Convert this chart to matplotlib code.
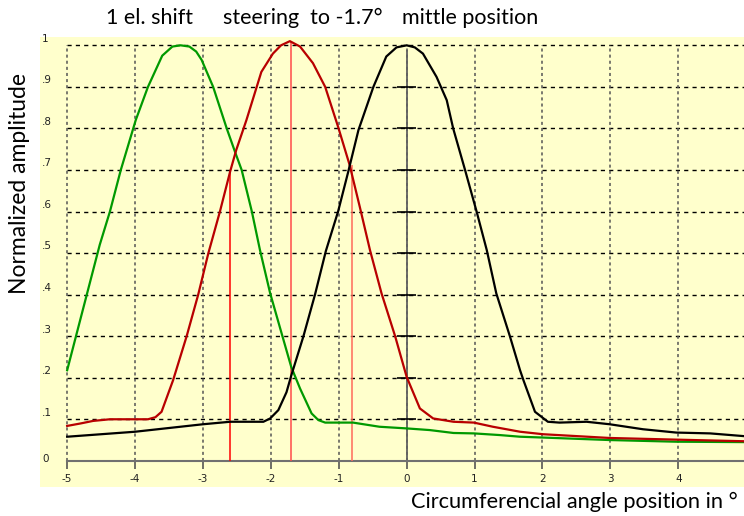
import numpy as np
import matplotlib.pyplot as plt

# DATA
green_x = [-5, -4.8, -4.52, -4.37, -4.21, -3.99, -3.81, -3.6, -3.45, -3.33, -3.2, -3.1, -3.02, -2.85, -2.65,
           -2.52, -2.43, -2.28, -2.16, -2.01, -1.87, -1.70, -1.57, -1.40, -1.30, -1.20, -0.79, -0.40, 0, 0.34,
           0.69, 0.99, 1.37, 1.67, 2.01, 2.99, 3.97, 5.0]
green_y = [0.218, 0.344, 0.52, 0.60, 0.70, 0.82, 0.90, 0.975, 0.997, 1.0, 0.997, 0.985, 0.965, 0.90, 0.80,
           0.74, 0.70, 0.60, 0.507, 0.403, 0.323, 0.226, 0.174, 0.114, 0.098, 0.092, 0.092, 0.082, 0.078, 0.074,
           0.067, 0.066, 0.062, 0.058, 0.056, 0.05, 0.046, 0.045]

red_x = [-5, -4.8, -4.62, -4.37, -3.81, -3.7, -3.61, -3.44, -3.24, -3.07, -2.92, -2.75, -2.60, -2.51, -2.36,
         -2.14, -1.97, -1.85, -1.72, -1.57, -1.38, -1.20, -1.01, -0.84, -0.69, -0.54, -0.37, -0.17, 0, 0.195,
         0.39, 0.69, 0.99, 1.27, 1.67, 2.01, 2.99, 3.97, 5.0]
red_y = [0.084, 0.09, 0.096, 0.10, 0.10, 0.105, 0.118, 0.194, 0.30, 0.40, 0.50, 0.60, 0.696, 0.748, 0.82,
         0.936, 0.98, 1.0, 1.01, 0.997, 0.957, 0.90, 0.804, 0.712, 0.611, 0.507, 0.403, 0.30, 0.202, 0.126,
         0.102, 0.094, 0.092, 0.082, 0.07, 0.064, 0.055, 0.051, 0.047]

black_x = [-5, -4, -3, -2.6, -2.11, -2.01, -1.89, -1.77, -1.70, -1.52, -1.35, -1.19, -1.01, -0.86, -0.71,
           -0.49, -0.30, -0.15, 0, 0.12, 0.24, 0.44, 0.59, 0.685, 0.86, 1.03, 1.18, 1.32, 1.52, 1.67, 1.72,
           1.89, 2.08, 2.25, 2.65, 2.99, 3.48, 3.97, 4.47, 5.0]
black_y = [0.058, 0.07, 0.088, 0.094, 0.094, 0.102, 0.122, 0.165, 0.205, 0.30, 0.40, 0.505, 0.60, 0.696, 0.796,
           0.90, 0.973, 0.995, 1.0, 0.995, 0.98, 0.924, 0.868, 0.80, 0.70, 0.60, 0.507, 0.403, 0.30, 0.218, 0.194,
           0.118, 0.094, 0.092, 0.094, 0.088, 0.076, 0.068, 0.066, 0.059]

# red marker lines (angle, height)
mark_x = [-2.6, -1.7, -0.8]
mark_top = [0.697, 1.01, 0.712]
mark_col = ["#ff0000", "#ff4a4a", "#ff6a5a"]

xticks = [-5, -4, -3, -2, -1, 0, 1, 2, 3, 4, 5]
yticks = [0.1, 0.2, 0.3, 0.4, 0.5, 0.6, 0.7, 0.8, 0.9, 1.0]
ylabels = ["1", ".9", ".8", ".7", ".6", ".5", ".4", ".3", ".2", ".1", "0"]
ylabel_vals = [1.0, 0.9, 0.8, 0.7, 0.6, 0.5, 0.4, 0.3, 0.2, 0.1, 0.0]

# PLOT
W, H = 744, 516
fig = plt.figure(figsize=(W / 100, H / 100), dpi=100)
fig.patch.set_facecolor("white")

xmin, xmax = -5.40, 5.2
ymin, ymax = -0.063, 1.02
ppu = 67.9
ax = fig.add_axes([40 / W, (H - 487) / H, (xmax - xmin) * ppu / W, 450 / H])
ax.set_facecolor("#ffffcc")
ax.set_xlim(xmin, xmax)
ax.set_ylim(ymin, ymax)

# grid inside the box
ax.hlines(yticks, -5, 5, colors="black", linestyles=(0, (3, 3)), linewidth=1, zorder=1)
ax.vlines(xticks, 0, 1, colors="#555555", linestyles=(0, (2, 2)), linewidth=1.1, zorder=1)

# central y axis with ticks
ax.vlines(0, 0, 0.988, colors="#606060", linewidth=1.3, zorder=2)
ax.hlines(yticks[:-1], -0.14, 0.14, colors="black", linewidth=1.2, zorder=2)

# marker lines
for mx, mt, mc in zip(mark_x, mark_top, mark_col):
    ax.vlines(mx, 0, mt, colors=mc, linewidth=1.1, zorder=3)

ax.plot(green_x, green_y, color="#009900", linewidth=1.6, zorder=4)
ax.plot(red_x, red_y, color="#b80000", linewidth=1.6, zorder=4)
ax.plot(black_x, black_y, color="black", linewidth=1.6, zorder=4)

# axes styling
for s in ["left", "right", "top"]:
    ax.spines[s].set_visible(False)
ax.spines["bottom"].set_position(("data", 0))
ax.spines["bottom"].set_bounds(-5, 5)
ax.spines["bottom"].set_color("#707070")
ax.spines["bottom"].set_linewidth(1.5)
ax.set_xticks(xticks)
ax.set_xticklabels([str(t) for t in xticks])
ax.tick_params(axis="x", direction="out", length=5.8, width=1.2, color="#555555",
               labelsize=7.5, pad=4, labelcolor="#222222")
ax.set_yticks([])

for v, lab in zip(ylabel_vals, ylabels):
    ax.text(-5.37, v + 0.004, lab, fontsize=7.5, ha="left", va="bottom" if v > 0 else "center",
            color="#222222")

# texts
fig.text(106 / W, 1 - 18 / H, "1 el. shift", fontsize=15.5, family="Lato", ha="left", va="center")
fig.text(223 / W, 1 - 18 / H, "steering  to -1.7°", fontsize=15.5, family="Lato", ha="left", va="center")
fig.text(402 / W, 1 - 18 / H, "mittle position", fontsize=15.5, family="Lato", ha="left", va="center")
fig.text(20 / W, 1 - 184 / H, "Normalized amplitude", fontsize=16.5, family="Lato", rotation=90,
         ha="center", va="center")
fig.text(738 / W, 1 - 502 / H, "Circumferencial angle position in °", fontsize=15.7, family="Lato",
         ha="right", va="center")

fig.savefig("out.png", dpi=100)
